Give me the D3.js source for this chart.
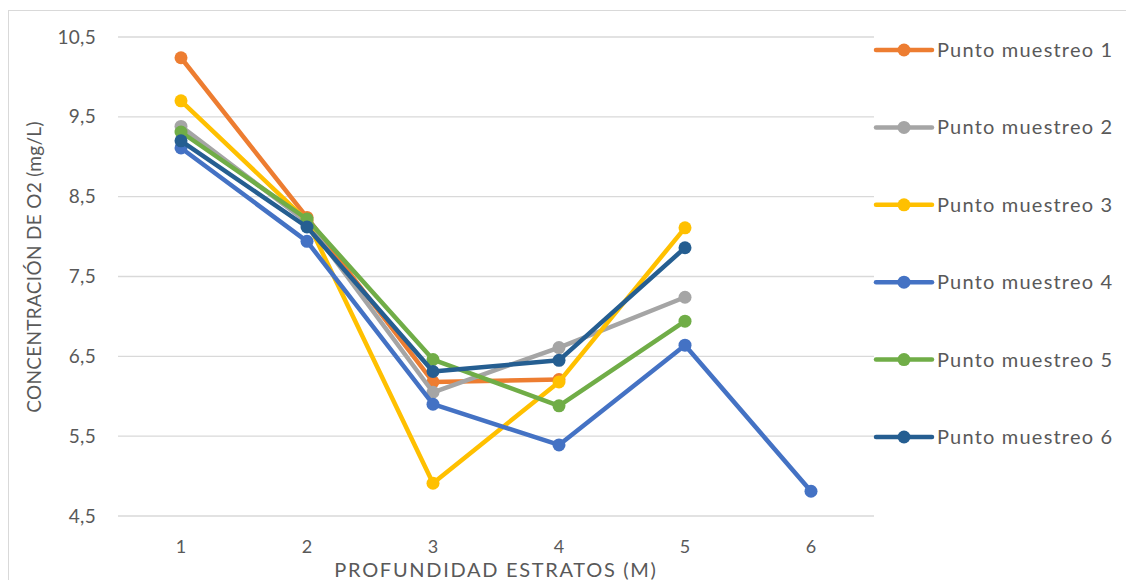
<!DOCTYPE html>
<html>
<head>
<meta charset="utf-8">
<script src="https://cdn.jsdelivr.net/npm/d3@7"></script>
<style>
  html, body { margin: 0; padding: 0; background: #fff; }
  svg { display: block; font-family: Lato, "Open Sans", sans-serif; }
</style>
</head>
<body>
<svg id="chart" width="1126" height="580"></svg>
<script>
// Oxygen concentration by depth stratum at each sampling point
const categories = ["1", "2", "3", "4", "5", "6"];
const seriesNames = ["Punto muestreo 1", "Punto muestreo 2", "Punto muestreo 3",
                     "Punto muestreo 4", "Punto muestreo 5", "Punto muestreo 6"];
const punto1 = [10.24, 8.24, 6.18, 6.21, null, null];
const punto2 = [9.38, 8.18, 6.05, 6.61, 7.24, null];
const punto3 = [9.70, 8.20, 4.91, 6.18, 8.11, null];
const punto4 = [9.11, 7.94, 5.90, 5.39, 6.64, 4.81];
const punto5 = [9.31, 8.22, 6.46, 5.88, 6.94, null];
const punto6 = [9.20, 8.12, 6.31, 6.45, 7.86, null];
const yTicks = [4.5, 5.5, 6.5, 7.5, 8.5, 9.5, 10.5];
const colors = ["#ED7D31", "#A5A5A5", "#FFC000", "#4472C4", "#70AD47", "#255E91"];

const allSeries = [punto1, punto2, punto3, punto4, punto5, punto6];

const svg = d3.select("#chart");
const plot = { left: 118, right: 874, top: 37, bottom: 516 };

// chart frame
svg.append("rect")
  .attr("x", 8.5).attr("y", 10.5)
  .attr("width", 1140).attr("height", 600)
  .attr("fill", "none").attr("stroke", "#d9d9d9").attr("stroke-width", 1);

const x = d3.scalePoint().domain(categories)
  .range([plot.left, plot.right]).padding(0.5);
const y = d3.scaleLinear().domain([4.5, 10.5]).range([plot.bottom, plot.top]);

// horizontal gridlines
svg.append("g").selectAll("line").data(yTicks).join("line")
  .attr("x1", plot.left).attr("x2", plot.right)
  .attr("y1", d => y(d)).attr("y2", d => y(d))
  .attr("stroke", "#d9d9d9").attr("stroke-width", 1.3);

const fmt = d => d3.format(".1f")(d).replace(".", ",");

// y axis labels
svg.append("g").selectAll("text").data(yTicks).join("text")
  .attr("x", 96).attr("y", d => y(d))
  .attr("dy", "0.35em")
  .attr("text-anchor", "end")
  .attr("font-size", 19).attr("fill", "#595959")
  .attr("letter-spacing", 0.3)
  .text(fmt);

// x axis labels
svg.append("g").selectAll("text").data(categories).join("text")
  .attr("x", d => x(d)).attr("y", 547)
  .attr("dy", "0.35em")
  .attr("text-anchor", "middle")
  .attr("font-size", 18).attr("fill", "#595959")
  .text(d => d);

// axis titles
svg.append("text")
  .attr("transform", "translate(41,267) rotate(-90)")
  .attr("text-anchor", "middle")
  .attr("font-size", 19).attr("fill", "#595959")
  .attr("letter-spacing", 0.3)
  .text("CONCENTRACIÓN  DE O2 (mg/L)");

svg.append("text")
  .attr("x", 496).attr("y", 577)
  .attr("text-anchor", "middle")
  .attr("font-size", 20).attr("fill", "#595959")
  .attr("letter-spacing", 1.7)
  .text("PROFUNDIDAD  ESTRATOS  (M)");

// series lines and markers
const line = d3.line()
  .defined(d => d.v !== null)
  .x(d => x(d.c)).y(d => y(d.v));

allSeries.forEach((vals, i) => {
  const pts = vals.map((v, j) => ({ c: categories[j], v }));
  const g = svg.append("g");
  g.append("path")
    .datum(pts)
    .attr("d", line)
    .attr("fill", "none")
    .attr("stroke", colors[i])
    .attr("stroke-width", 4.5)
    .attr("stroke-linejoin", "round");
  g.selectAll("circle").data(pts.filter(d => d.v !== null)).join("circle")
    .attr("cx", d => x(d.c)).attr("cy", d => y(d.v))
    .attr("r", 6.5)
    .attr("fill", colors[i]);
});

// legend
const legend = svg.append("g").selectAll("g").data(seriesNames).join("g")
  .attr("transform", (d, i) => `translate(876, ${50 + i * 77.4})`);
legend.append("line")
  .attr("x1", 0).attr("x2", 56).attr("y1", 0).attr("y2", 0)
  .attr("stroke", (d, i) => colors[i]).attr("stroke-width", 4.5)
  .attr("stroke-linecap", "round");
legend.append("circle")
  .attr("cx", 28).attr("cy", 0).attr("r", 6.5)
  .attr("fill", (d, i) => colors[i]);
legend.append("text")
  .attr("x", 61).attr("y", 0).attr("dy", "0.35em")
  .attr("font-size", 20).attr("fill", "#595959")
  .attr("letter-spacing", 1.2)
  .text(d => d);
</script>
</body>
</html>
